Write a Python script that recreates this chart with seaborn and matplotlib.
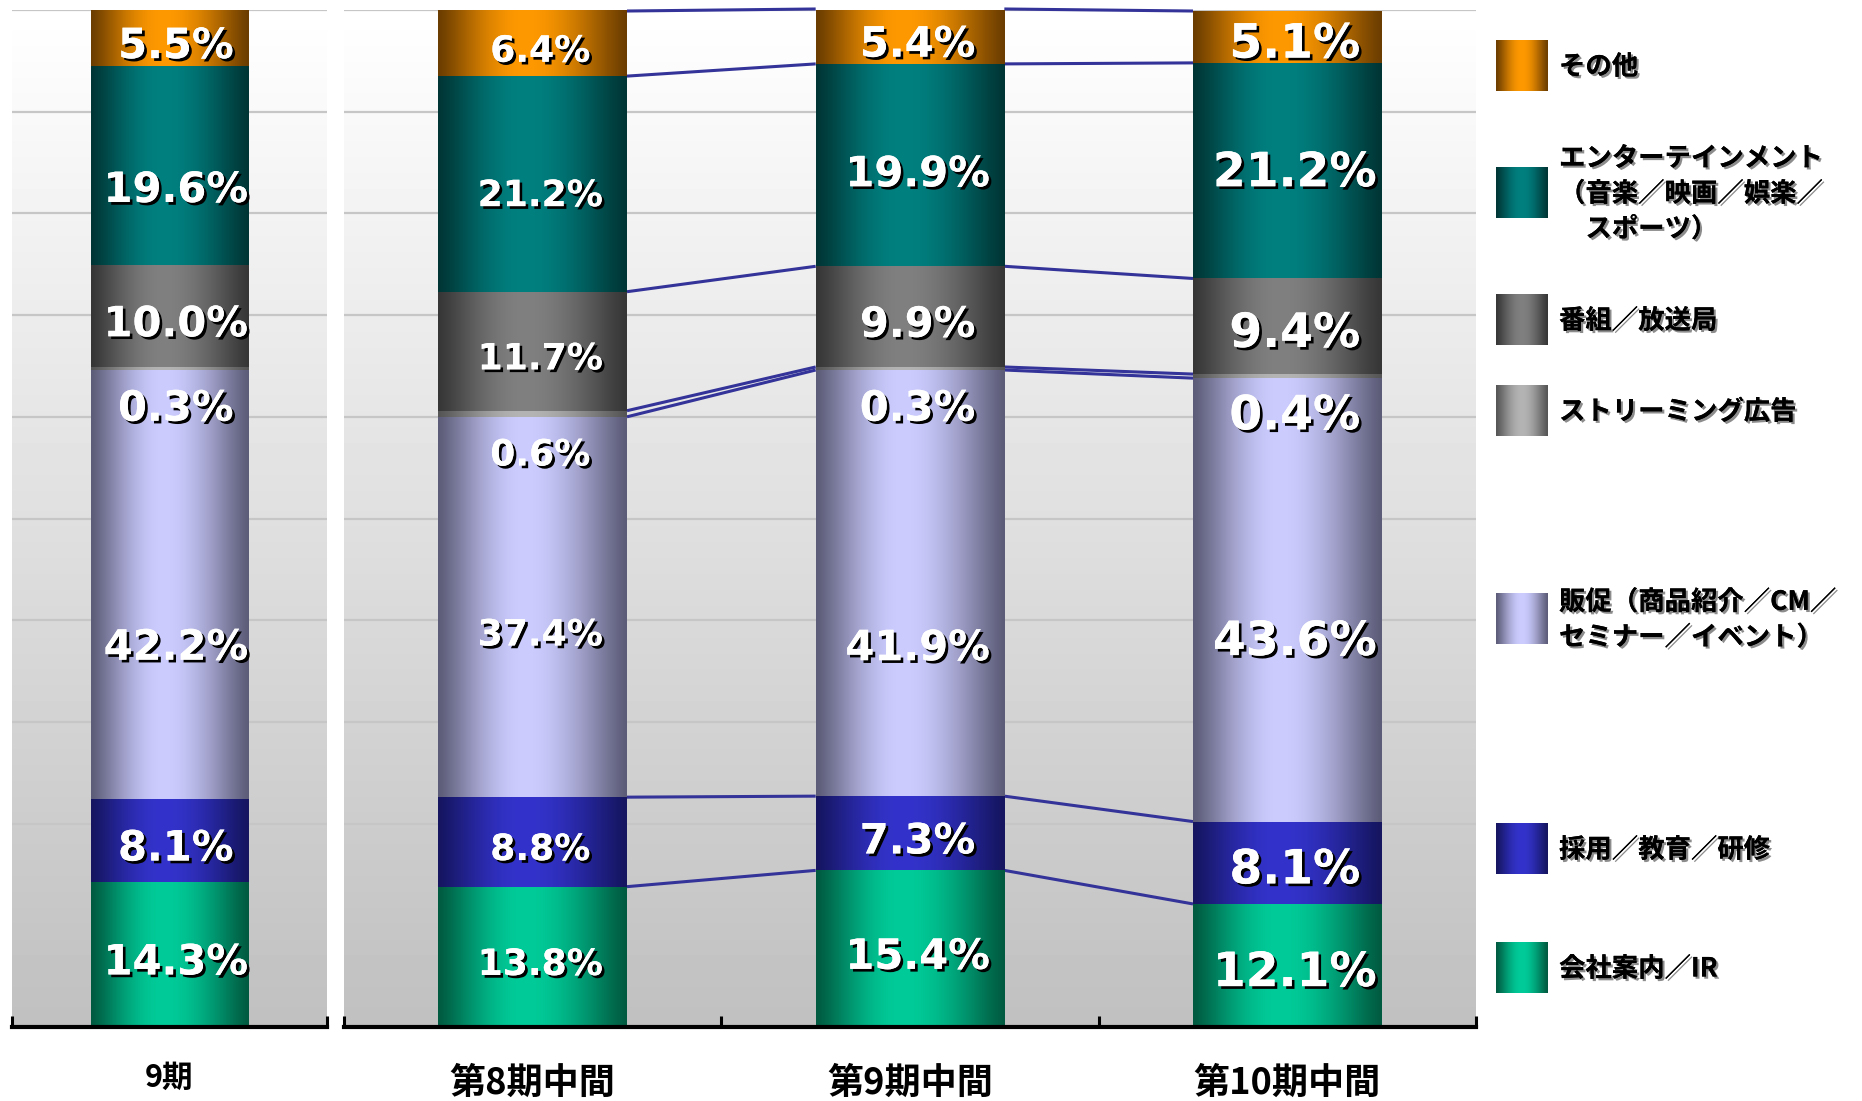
import numpy as np
import matplotlib
matplotlib.use("Agg")
import matplotlib.pyplot as plt
from matplotlib import patheffects as pe
from matplotlib.ticker import FixedLocator
import seaborn as sns

# ---- data -------------------------------------------------------------
periods = ["9期", "第8期中間", "第9期中間", "第10期中間"]

corporate = [14.3, 13.8, 15.4, 12.1]        # 会社案内/IR
recruit = [8.1, 8.8, 7.3, 8.1]              # 採用/教育/研修
promotion = [42.2, 37.4, 41.9, 43.6]        # 販促
streaming = [0.3, 0.6, 0.3, 0.4]            # ストリーミング広告
broadcast = [10.0, 11.7, 9.9, 9.4]          # 番組/放送局
entertainment = [19.6, 21.2, 19.9, 21.2]    # エンターテインメント
other = [5.5, 6.4, 5.4, 5.1]                # その他

series_names = [
    "会社案内／IR",
    "採用／教育／研修",
    "販促（商品紹介／CM／\nセミナー／イベント）",
    "ストリーミング広告",
    "番組／放送局",
    "エンターテインメント\n（音楽／映画／娯楽／\n\u3000スポーツ）",
    "その他",
]
series_values = [corporate, recruit, promotion, streaming, broadcast, entertainment, other]

# (center colour, edge colour) of the cylindrical shading, bottom to top
shades = [
    ("#00CC99", "#005A40"),
    ("#3333CC", "#151560"),
    ("#CCCCFF", "#5C5C78"),
    ("#B4B4B4", "#555555"),
    ("#808080", "#363636"),
    ("#008080", "#003535"),
    ("#FF9900", "#6B3D00"),
]

# ---- style --------------------------------------------------------------
sns.set_theme(style="white")
plt.rcParams["font.family"] = ["Noto Sans CJK JP", "DejaVu Sans"]

W, H = 1862, 1101
fig = plt.figure(figsize=(W / 100, H / 100), dpi=100)
fig.patch.set_facecolor("white")

ax_left = fig.add_axes([12 / W, 74 / H, 315 / W, 1017 / H])
ax_right = fig.add_axes([344 / W, 74 / H, 1132 / W, 1017 / H])


def shade_row(center, edge, n=256, peak=0.46):
    c = np.array(matplotlib.colors.to_rgb(center))
    e = np.array(matplotlib.colors.to_rgb(edge))
    t = np.linspace(0, 1, n)
    f = np.where(t < peak, t / peak, (1 - t) / (1 - peak))
    w = np.sin(np.pi / 2 * f) ** 1.2
    return (e[None, :] + (c - e)[None, :] * w[:, None])[None, :, :]


label_fx = [pe.withSimplePatchShadow(offset=(2, -2), shadow_rgbFace="black", alpha=1.0),
            pe.Normal()]
legend_fx = [pe.withSimplePatchShadow(offset=(1.6, -1.6), shadow_rgbFace="#808080", alpha=0.9),
             pe.Normal()]

# label sizes per bar, and vertical nudges (in %) for the label placement
value_sizes = [30, 26, 30, 34]
promo_label_shift = [-6.2, -2.8, -6.4, -4.2]
ent_label_shift = [-2.4, -1.2, -0.9, -0.3]

groups = [(ax_left, [0]), (ax_right, [1, 2, 3])]

for ax, idx in groups:
    cats = [periods[i] for i in idx]
    n = len(idx)
    # vertical background wash
    bg = np.linspace(0.753, 1.0, 256)[:, None]
    ax.imshow(bg, cmap="gray", vmin=0, vmax=1, extent=[0, 1, 0, 1],
              transform=ax.transAxes, aspect="auto", zorder=0.1, origin="lower")
    ax.set_facecolor("none")

    bottom = np.zeros(n)
    cum = [bottom.copy()]
    for s, vals in enumerate(series_values):
        v = np.array([vals[i] for i in idx])
        before = len(ax.patches)
        sns.barplot(x=cats, y=v, bottom=bottom, width=0.5, color=shades[s][0],
                    order=cats, errorbar=None, ax=ax, linewidth=0, zorder=2)
        for p in ax.patches[before:]:
            x0, y0, w, h = p.get_x(), p.get_y(), p.get_width(), p.get_height()
            if h <= 0:
                continue
            ax.imshow(shade_row(*shades[s]), extent=[x0, x0 + w, y0, y0 + h],
                      aspect="auto", zorder=2.5, interpolation="bilinear")
        # value labels
        for k, i in enumerate(idx):
            if vals is streaming:
                y = bottom[k] - 3.8
            elif vals is promotion:
                y = bottom[k] + v[k] / 2 + promo_label_shift[i]
            elif vals is entertainment:
                y = bottom[k] + v[k] / 2 + ent_label_shift[i]
            else:
                y = bottom[k] + v[k] / 2 - 0.8
            ax.text(k + 0.02, y, f"{v[k]:.1f}%", ha="center", va="center",
                    color="white", fontsize=value_sizes[i], fontweight="bold",
                    family="DejaVu Sans", zorder=6, path_effects=label_fx)
        bottom = bottom + v
        cum.append(bottom.copy())

    # connector lines between neighbouring bars
    if n > 1:
        for level in cum[1:]:
            for k in range(n - 1):
                ax.plot([k + 0.25, k + 0.75], [level[k], level[k + 1]],
                        color="#333399", lw=2.2, zorder=1.5, clip_on=False,
                        solid_capstyle="butt")

    ax.set_xlim(-0.5, n - 0.5)
    ax.set_ylim(0, 100)
    ax.set_axisbelow(True)
    ax.set_yticks(np.arange(0, 101, 10))
    ax.yaxis.grid(True, color="#c6c6c6", lw=1.6)
    ax.xaxis.grid(False)
    ax.tick_params(axis="y", length=0, labelleft=False)
    for side in ["top", "left", "right"]:
        ax.spines[side].set_visible(False)
    ax.spines["bottom"].set_color("black")
    ax.spines["bottom"].set_linewidth(3)
    ax.set_xlabel("")
    ax.set_ylabel("")

    ax.set_xticks(range(n))
    ax.xaxis.set_minor_locator(FixedLocator(np.arange(-0.5, n, 1.0)))
    ax.tick_params(axis="x", which="minor", direction="in", length=8, width=2.2,
                   color="black", bottom=True)
    ax.tick_params(axis="x", which="major", length=0)

ax_left.set_xticklabels([periods[0]], fontsize=22, fontweight="bold", color="black")
ax_left.tick_params(axis="x", which="major", pad=25)
ax_right.set_xticklabels(periods[1:], fontsize=26, fontweight="bold", color="black")
ax_right.tick_params(axis="x", which="major", pad=27)

# ---- legend panel -------------------------------------------------------
lg = fig.add_axes([0, 0, 1, 1], zorder=10)
lg.axis("off")
lg.patch.set_alpha(0)

swatch_tops = [942, 823, 593, 385, 294, 167, 40]
for s, name in enumerate(series_names):
    top = swatch_tops[s]
    lg.imshow(shade_row(*shades[s], peak=0.5), extent=[1496, 1548, top + 51, top],
              aspect="auto", zorder=2, interpolation="bilinear")
    lg.text(1559, top + 27, name, ha="left", va="center", fontsize=19,
            fontweight="bold", color="black", linespacing=1.4,
            path_effects=legend_fx, zorder=3)
lg.set_xlim(0, W)
lg.set_ylim(H, 0)

fig.savefig("out.png", dpi=100)
